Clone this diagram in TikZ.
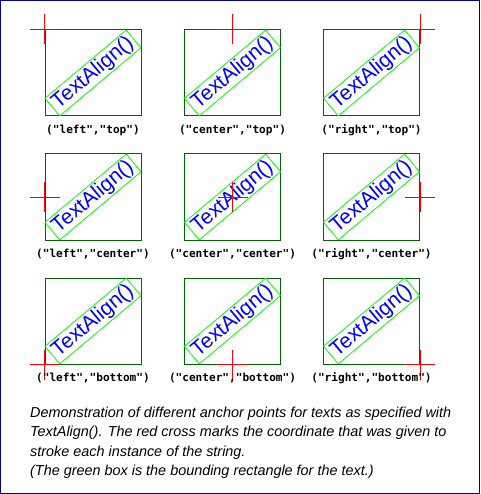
\documentclass[tikz,border=0pt]{standalone}
\usepackage{fontspec}
\setsansfont{Liberation Sans}
\setmonofont{DejaVu Sans Mono}
\usepackage{tikz}
\definecolor{boxgreen}{HTML}{006600}
\definecolor{bbgreen}{HTML}{00FF00}
\definecolor{txtblue}{HTML}{0000FF}
\definecolor{crossred}{HTML}{FF0000}
\definecolor{framenavy}{HTML}{000099}

\begin{document}
\begin{tikzpicture}[x=1pt, y=-1pt,
    bb/.style={draw=boxgreen, line width=1pt, minimum width=96pt, minimum height=86pt, inner sep=0},
    tx/.style={draw=bbgreen, line width=0.8pt, rotate=40, minimum width=106pt, minimum height=23pt, inner sep=0, text=txtblue, font=\sffamily\fontsize{21}{21}\selectfont},
    cr/.style={draw=crossred, line width=1pt},
    lb/.style={inner sep=0, font=\ttfamily\bfseries\fontsize{11.1}{12}\selectfont},
    captxt/.style={inner sep=0, align=left, font=\sffamily\itshape\fontsize{14.4}{19.5}\selectfont}]
\useasboundingbox (0,0) rectangle (480,494);
\draw[framenavy, line width=1pt] (0.5,0.5) rectangle (479.5,493.5);
\node[bb] (b1) at (93,73) {};
\node[bb] (b2) at (232.5,73) {};
\node[bb] (b3) at (371.5,73) {};
\node[bb] (b4) at (93,197) {};
\node[bb] (b5) at (232.5,197) {};
\node[bb] (b6) at (371.5,197) {};
\node[bb] (b7) at (93,321) {};
\node[bb] (b8) at (232.5,321) {};
\node[bb] (b9) at (371.5,321) {};
\node[tx] (t1) at (b1.center) {TextAlign()};
\node[tx] (t2) at (b2.center) {TextAlign()};
\node[tx] (t3) at (b3.center) {TextAlign()};
\node[tx] (t4) at (b4.center) {TextAlign()};
\node[tx] (t5) at (b5.center) {TextAlign()};
\node[tx] (t6) at (b6.center) {TextAlign()};
\node[tx] (t7) at (b7.center) {TextAlign()};
\node[tx] (t8) at (b8.center) {TextAlign()};
\node[tx] (t9) at (b9.center) {TextAlign()};
\draw[cr] (b1.north west) +(-15,0) -- +(15,0) +(0,-15) -- +(0,15);
\draw[cr] (b2.north) +(-15,0) -- +(15,0) +(0,-15) -- +(0,15);
\draw[cr] (b3.north east) +(-15,0) -- +(15,0) +(0,-15) -- +(0,15);
\draw[cr] (b4.west) +(-15,0) -- +(15,0) +(0,-15) -- +(0,15);
\draw[cr] (b5.center) +(-15,0) -- +(15,0) +(0,-15) -- +(0,15);
\draw[cr] (b6.east) +(-15,0) -- +(15,0) +(0,-15) -- +(0,15);
\draw[cr] (b7.south west) +(-15,0) -- +(15,0) +(0,-15) -- +(0,15);
\draw[cr] (b8.south) +(-15,0) -- +(15,0) +(0,-15) -- +(0,15);
\draw[cr] (b9.south east) +(-15,0) -- +(15,0) +(0,-15) -- +(0,15);
\node[lb] (l1) at (93,130) {("left","top")};
\node[lb] (l2) at (232.5,130) {("center","top")};
\node[lb] (l3) at (371.5,130) {("right","top")};
\node[lb] (l4) at (93,254.5) {("left","center")};
\node[lb] (l5) at (232.5,254.5) {("center","center")};
\node[lb] (l6) at (371.5,254.5) {("right","center")};
\node[lb] (l7) at (93,378) {("left","bottom")};
\node[lb] (l8) at (232.5,378) {("center","bottom")};
\node[lb] (l9) at (371.5,378) {("right","bottom")};
\node[captxt, anchor=north west] (caption) at (30,406.5) {Demonstration of different anchor points for texts as specified with\\TextAlign(). The red cross marks the coordinate that was given to\\stroke each instance of the string.\\(The green box is the bounding rectangle for the text.)};
\end{tikzpicture}
\end{document}
